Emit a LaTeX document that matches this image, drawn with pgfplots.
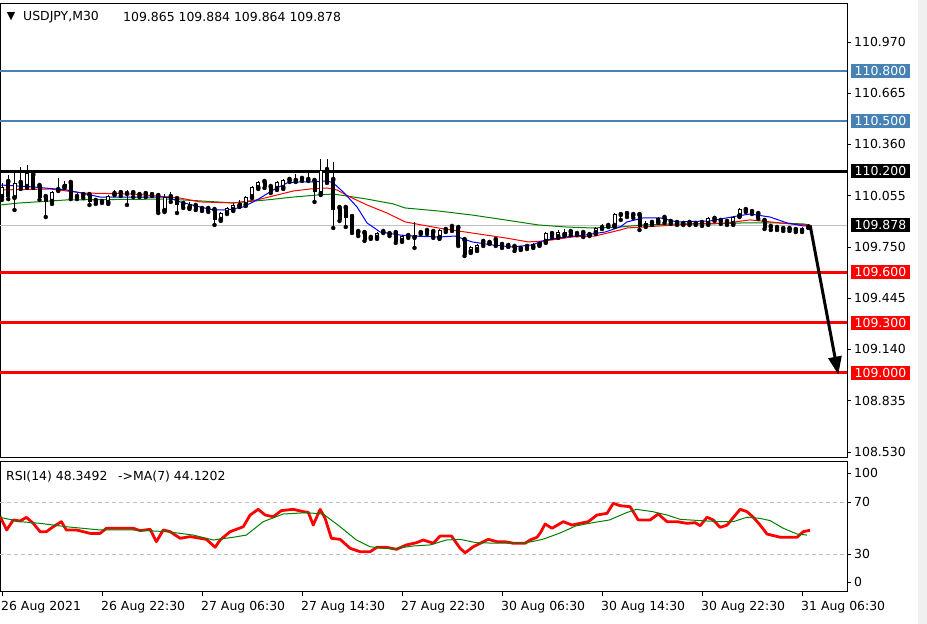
\documentclass[border=0pt]{standalone}
\usepackage{fontspec}
\setmainfont{DejaVu Sans}
\usepackage{pgfplots}
\pgfplotsset{compat=1.18}
\usepackage{pgfplotstable}
\usetikzlibrary{arrows.meta}
\definecolor{steel}{RGB}{70,130,180}
\definecolor{mtgreen}{RGB}{0,128,0}
\definecolor{mtred}{RGB}{255,0,0}
\definecolor{lvlgray}{RGB}{192,192,192}
\definecolor{stripgray}{RGB}{240,240,240}
\newcommand{\lbl}{\fontsize{12.5}{14}\selectfont}
\tikzset{pbox/.style={text=white, font=\lbl, anchor=west, inner xsep=3.5bp, inner ysep=1bp,
        minimum height=14bp, xshift=4bp}}

\pgfplotstableread{
i o h l c
0 110.047 110.131 110.030 110.107
1 110.137 110.178 110.035 110.047
2 110.041 110.208 109.970 110.131
3 110.131 110.226 110.095 110.101
4 110.107 110.238 110.101 110.190
5 110.178 110.190 110.101 110.107
6 110.113 110.125 110.030 110.041
7 110.047 110.053 109.928 110.018
8 110.018 110.083 110.006 110.077
9 110.089 110.161 110.083 110.101
10 110.107 110.143 110.101 110.125
11 110.131 110.149 110.035 110.041
12 110.047 110.071 110.035 110.059
13 110.059 110.065 110.041 110.047
14 110.059 110.065 110.000 110.018
15 110.024 110.030 110.006 110.012
16 110.018 110.035 110.012 110.024
17 110.012 110.059 110.006 110.053
18 110.065 110.089 110.059 110.071
19 110.071 110.089 110.053 110.065
20 110.065 110.089 110.000 110.071
21 110.071 110.077 110.047 110.059
22 110.059 110.077 110.047 110.065
23 110.065 110.071 110.047 110.059
24 110.059 110.077 110.053 110.065
25 110.053 110.065 109.952 109.958
26 109.964 110.065 109.958 110.047
27 110.047 110.077 110.018 110.030
28 110.035 110.047 109.952 110.000
29 110.006 110.018 109.982 109.988
30 109.982 110.018 109.976 110.006
31 109.994 110.000 109.970 109.976
32 109.976 109.988 109.964 109.970
33 109.976 109.982 109.958 109.964
34 109.970 109.976 109.881 109.911
35 109.911 109.958 109.905 109.952
36 109.952 109.988 109.946 109.982
37 109.970 110.012 109.964 110.000
38 109.994 110.030 109.988 110.012
39 110.000 110.053 109.994 110.047
40 110.047 110.113 110.041 110.107
41 110.101 110.143 110.095 110.137
42 110.137 110.143 110.101 110.107
43 110.107 110.113 110.071 110.077
44 110.095 110.143 110.089 110.137
45 110.101 110.155 110.095 110.149
46 110.149 110.155 110.137 110.143
47 110.143 110.184 110.137 110.155
48 110.155 110.161 110.143 110.149
49 110.149 110.208 110.143 110.155
50 110.143 110.149 110.018 110.077
51 110.065 110.273 110.059 110.208
52 110.208 110.273 110.131 110.137
53 110.149 110.256 109.863 109.970
54 109.982 109.988 109.905 109.911
55 109.982 109.988 109.869 109.923
56 109.928 109.934 109.833 109.839
57 109.839 109.845 109.815 109.821
58 109.833 109.839 109.786 109.791
59 109.804 109.815 109.798 109.809
60 109.804 109.839 109.798 109.833
61 109.839 109.857 109.833 109.845
62 109.827 109.833 109.815 109.821
63 109.833 109.839 109.774 109.780
64 109.786 109.821 109.780 109.815
65 109.815 109.821 109.804 109.809
66 109.804 109.899 109.744 109.821
67 109.833 109.845 109.827 109.839
68 109.845 109.851 109.827 109.833
69 109.839 109.845 109.804 109.809
70 109.804 109.857 109.798 109.851
71 109.851 109.863 109.839 109.845
72 109.869 109.875 109.845 109.851
73 109.863 109.869 109.756 109.762
74 109.791 109.798 109.696 109.702
75 109.720 109.756 109.714 109.750
76 109.732 109.768 109.726 109.762
77 109.780 109.798 109.756 109.762
78 109.774 109.786 109.768 109.780
79 109.791 109.798 109.756 109.762
80 109.762 109.768 109.744 109.756
81 109.756 109.768 109.750 109.762
82 109.750 109.756 109.726 109.732
83 109.738 109.756 109.732 109.750
84 109.750 109.756 109.738 109.744
85 109.750 109.774 109.744 109.768
86 109.762 109.786 109.756 109.780
87 109.780 109.839 109.774 109.833
88 109.827 109.839 109.804 109.809
89 109.809 109.851 109.804 109.839
90 109.821 109.857 109.815 109.839
91 109.839 109.845 109.821 109.827
92 109.827 109.839 109.821 109.833
93 109.833 109.839 109.809 109.821
94 109.821 109.833 109.815 109.827
95 109.833 109.869 109.827 109.863
96 109.863 109.887 109.857 109.875
97 109.875 109.893 109.869 109.881
98 109.875 109.952 109.869 109.946
99 109.940 109.958 109.911 109.946
100 109.946 109.958 109.928 109.940
101 109.940 109.952 109.923 109.928
102 109.940 109.946 109.851 109.869
103 109.875 109.905 109.869 109.893
104 109.893 109.905 109.881 109.899
105 109.899 109.928 109.893 109.923
106 109.923 109.928 109.893 109.899
107 109.899 109.905 109.887 109.893
108 109.893 109.899 109.881 109.887
109 109.887 109.899 109.881 109.893
110 109.893 109.899 109.881 109.887
111 109.887 109.905 109.881 109.893
112 109.893 109.899 109.875 109.887
113 109.887 109.928 109.881 109.923
114 109.917 109.928 109.905 109.911
115 109.905 109.911 109.887 109.899
116 109.899 109.911 109.881 109.893
117 109.887 109.934 109.881 109.928
118 109.934 109.982 109.928 109.976
119 109.970 109.976 109.958 109.964
120 109.958 109.964 109.946 109.952
121 109.946 109.952 109.917 109.923
122 109.905 109.911 109.857 109.863
123 109.869 109.875 109.851 109.863
124 109.863 109.869 109.851 109.857
125 109.857 109.869 109.845 109.863
126 109.857 109.863 109.845 109.851
127 109.851 109.857 109.839 109.845
128 109.845 109.869 109.839 109.863
129 109.865 109.884 109.864 109.878
}\candles

\begin{document}
\begin{tikzpicture}[x=1bp,y=1bp]
\path[use as bounding box] (0,0) rectangle (927,624);
\fill[white] (0,0) rectangle (927,624);
\fill[stripgray] (918,0) rectangle (927,624);

% ---------------- main price panel ----------------
\begin{axis}[
  at={(0bp,166bp)}, anchor=south west,
  scale only axis, width=847bp, height=454bp,
  xmin=-0.32, xmax=135.2, ymin=108.494, ymax=111.196,
  clip=false,
  axis line style={black, line width=1bp},
  xtick=\empty,
  ytick={108.530,108.835,109.140,109.445,109.750,110.055,110.360,110.665,110.970},
  ytick pos=right, yticklabel pos=right,
  tick align=outside, major tick length=4bp,
  tick style={black, line width=0.8bp},
  /pgf/number format/assume math mode=true,
  yticklabel={\pgfmathprintnumber[fixed,fixed zerofill,precision=3,assume math mode=true]{\tick}},
  yticklabel style={font=\lbl, anchor=west, inner xsep=1bp, xshift=2bp},
]
% level lines
\addplot[steel, line width=2bp] coordinates {(-0.32,110.8) (135.2,110.8)};
\addplot[steel, line width=2bp] coordinates {(-0.32,110.5) (135.2,110.5)};
\addplot[lvlgray, line width=1bp] coordinates {(-0.32,109.878) (135.2,109.878)};
\addplot[black, line width=3bp] coordinates {(-0.32,110.2) (135.2,110.2)};
\addplot[mtred, line width=3bp] coordinates {(-0.32,109.6) (135.2,109.6)};
\addplot[mtred, line width=3bp] coordinates {(-0.32,109.3) (135.2,109.3)};
\addplot[mtred, line width=3bp] coordinates {(-0.32,109.0) (135.2,109.0)};

% moving averages
\addplot[mtgreen, line width=1bp] coordinates {
(-0.3,110.000) (2.9,110.012) (10.4,110.030) (26.4,110.035) (31.7,110.024) (37,110.012)
(42.4,110.030) (46.6,110.047) (50.4,110.059) (53,110.065) (55.2,110.053) (58.4,110.035)
(62.6,110.006) (64.5,109.982) (69.8,109.964) (75.2,109.940) (80.5,109.911) (85.8,109.881)
(90.1,109.869) (94.4,109.863) (98.9,109.869) (102.6,109.881) (108,109.887) (113.3,109.887)
(118.6,109.893) (124,109.893) (128.2,109.887) (129.3,109.881)};
\addplot[mtred, line width=1bp] coordinates {
(-0.3,110.089) (7.7,110.095) (13,110.071) (21,110.065) (28.5,110.041) (31.7,110.018)
(37,110.012) (40.8,110.030) (44,110.059) (46.6,110.083) (49.3,110.095) (52,110.101)
(53.6,110.089) (55.7,110.047) (58.4,110.000) (61.6,109.952) (64.5,109.899) (69.8,109.863)
(75.2,109.833) (80.5,109.804) (84.2,109.780) (86.9,109.786) (91.2,109.809) (94.9,109.815)
(98.9,109.851) (100,109.863) (105.3,109.875) (110.6,109.887) (116,109.893) (119.7,109.911)
(122.9,109.899) (126.1,109.887) (129.3,109.881)};
\addplot[blue, line width=1bp] coordinates {
(-0.3,110.119) (5,110.107) (10.4,110.089) (15.7,110.047) (21,110.047) (26.4,110.047)
(28.5,110.018) (31.7,109.988) (33.8,109.970) (36,109.970) (38.6,109.988) (40.8,110.030)
(43.4,110.089) (45.6,110.131) (47.7,110.137) (49.8,110.137) (52,110.143) (53,110.131)
(54.6,110.077) (56.8,109.988) (58.4,109.893) (60.5,109.839) (63.7,109.821) (65.8,109.815)
(69.8,109.809) (72.5,109.815) (75.2,109.780) (78.4,109.762) (81.6,109.750) (84.8,109.762)
(86.9,109.791) (90.1,109.809) (93.3,109.821) (96.5,109.839) (98.9,109.869) (100,109.899)
(102.6,109.923) (105.3,109.923) (108,109.899) (113.3,109.905) (117.6,109.934) (119.7,109.946)
(122.9,109.928) (125.6,109.893) (128.2,109.875) (129,109.875)};

% candles: wicks
\addplot[only marks, mark=none,
  error bars/.cd, y dir=plus, y explicit, error mark=none,
  error bar style={black, line width=1bp}]
  table[x=i, y=l, y error plus expr={\thisrow{h}-\thisrow{l}}] {\candles};
% candles: bodies
\addplot[only marks, mark=none,
  error bars/.cd, y dir=both, y explicit, error mark=none,
  error bar style={black, line width=4bp, line cap=butt}]
  table[x=i, y=o, y error plus expr={max(\thisrow{c}-\thisrow{o},0)},
        y error minus expr={max(\thisrow{o}-\thisrow{c},0)}] {\candles};
% candles: hollow bull bodies
\addplot[only marks, mark=none,
  error bars/.cd, y dir=plus, y explicit, error mark=none,
  error bar style={white, line width=2bp, line cap=butt}]
  table[x=i, y expr={\thisrow{o}+0.006},
        y error plus expr={max(\thisrow{c}-\thisrow{o}-0.012,0)}] {\candles};

% arrow
\addplot[black, line width=3bp, -{Triangle[length=18bp,width=13bp]}]
  coordinates {(129.3,109.878) (133.8,108.99)};

% price boxes
\node[pbox, fill=steel] at (axis cs:135.2,110.8) {110.800};
\node[pbox, fill=steel] at (axis cs:135.2,110.5) {110.500};
\node[pbox, fill=black] at (axis cs:135.2,110.2) {110.200};
\node[pbox, fill=black] at (axis cs:135.2,109.878) {109.878};
\node[pbox, fill=mtred] at (axis cs:135.2,109.6) {109.600};
\node[pbox, fill=mtred] at (axis cs:135.2,109.3) {109.300};
\node[pbox, fill=mtred] at (axis cs:135.2,109.0) {109.000};
\end{axis}

% ---------------- RSI panel ----------------
\begin{axis}[
  at={(0bp,32bp)}, anchor=south west,
  scale only axis, width=847bp, height=130bp,
  xmin=-0.32, xmax=135.2, ymin=0.8, ymax=100.8,
  axis line style={black, line width=1bp},
  xtick={0,16,32,48,64,80,96,112,128},
  xticklabels={26 Aug 2021,26 Aug 22:30,27 Aug 06:30,27 Aug 14:30,27 Aug 22:30,30 Aug 06:30,30 Aug 14:30,30 Aug 22:30,31 Aug 06:30},
  xtick pos=bottom,
  xticklabel style={font=\lbl, anchor=north west, inner xsep=0bp, xshift=-1bp, yshift=-2bp},
  ytick={8.5,30,70,92.3}, yticklabels={0,30,70,100},
  ytick pos=right, yticklabel pos=right,
  yticklabel style={font=\lbl, anchor=west, inner xsep=1bp, xshift=2bp},
  tick align=outside, major tick length=4bp,
  tick style={black, line width=0.8bp},
]
\addplot[lvlgray, line width=1bp, dash pattern=on 4bp off 3bp] coordinates {(-0.32,70) (135.2,70)};
\addplot[lvlgray, line width=1bp, dash pattern=on 4bp off 3bp] coordinates {(-0.32,30) (135.2,30)};
\addplot[mtred, line width=2.8bp, line join=round] coordinates {
(-0.3,58.7) (0.75,48.5) (1.8,56.2) (2.9,55.4) (3.9,58.2) (5,53.6) (6.1,47.2) (7.1,47.2)
(8.2,51.0) (9.5,54.9) (10.3,48.5) (11.9,48.5) (14.1,45.9) (15.7,45.9) (16.7,49.8) (18.9,49.8)
(21,49.8) (22.1,48.0) (23.7,49.0) (24.7,39.5) (25.8,48.5) (26.9,47.2) (28.5,42.1) (30.1,43.4)
(31.7,42.1) (32.7,41.3) (34.1,35.2) (34.9,40.8) (36.5,47.2) (37.5,49.0) (38.6,51.0) (39.7,60.0)
(41,64.4) (42.1,60.0) (43.4,58.7) (44.7,63.4) (46.6,64.4) (48.2,62.6) (49,62.1) (49.8,52.3)
(50.9,64.4) (51.7,57.5) (52.7,42.1) (54.1,41.3) (55.7,34.4) (57.3,31.8) (58.9,31.8) (60,35.2)
(61.5,35.2) (63.1,33.6) (64.7,37.0) (66.3,38.7) (67.4,40.8) (69,38.3) (70.1,43.9) (71.9,43.9)
(73.3,34.4) (74.1,31.0) (75.4,35.6) (77,39.5) (77.8,41.3) (79.2,39.5) (80.5,39.5) (81.8,38.3)
(83.7,38.3) (84.5,40.8) (85.6,42.9) (86.1,46.0) (86.9,53.1) (88,49.8) (89.8,54.9) (91.2,52.3)
(92.5,53.6) (93.8,54.9) (95.2,60.0) (96.8,61.3) (97.8,69.0) (98.9,67.2) (100.5,66.4) (101.8,56.2)
(103.7,56.2) (105,60.8) (106.4,54.9) (108,54.9) (109.6,53.6) (110.9,54.1) (111.7,51.8) (112.8,58.3)
(113.8,56.2) (114.9,50.5) (116,52.3) (118.1,64.4) (119.2,62.6) (120.2,58.3) (121.3,52.3) (122.4,45.4)
(124.5,42.9) (127.2,42.9) (128.2,47.2) (129.3,48.3)};
\addplot[mtgreen, line width=1bp] coordinates {
(-0.3,58.2) (2.9,54.9) (6.1,53.6) (10.3,51.0) (15.7,48.5) (21,48.5) (26.4,47.2) (30.6,44.6)
(33.8,40.8) (37,42.9) (39.1,44.6) (41.8,54.9) (45,60.8) (48.7,61.8) (51.4,60.8) (54.1,51.0)
(56.7,40.8) (58.9,35.6) (61,34.4) (63.1,34.4) (65.8,36.2) (68.5,37.0) (71.1,40.8) (73.3,41.3)
(75.9,38.7) (79.6,38.3) (83.9,38.7) (86.5,41.3) (89.2,46.0) (91.8,51.6) (94.5,54.1) (97.2,56.2)
(99.9,61.8) (101.5,64.4) (104.1,62.6) (106.4,60.0) (108.5,56.7) (111.7,55.7) (114.9,54.9) (117,54.9)
(119.2,58.3) (121.3,57.4) (122.9,55.7) (125,49.8) (127.2,45.4) (128.8,44.6)};
\end{axis}

% texts
\node[anchor=center, inner sep=0pt] at (11,607) {\fontsize{11}{12}\selectfont ▼};
\node[anchor=west, inner sep=0pt, font=\lbl] at (23,607) {USDJPY,M30};
\node[anchor=west, inner sep=0pt, font=\lbl] at (123,607) {109.865 109.884 109.864 109.878};
\node[anchor=west, inner sep=0pt, font=\lbl] at (6,147) {RSI(14) 48.3492};
\node[anchor=west, inner sep=0pt, font=\lbl] at (118,147) {->MA(7) 44.1202};
\end{tikzpicture}
\end{document}
